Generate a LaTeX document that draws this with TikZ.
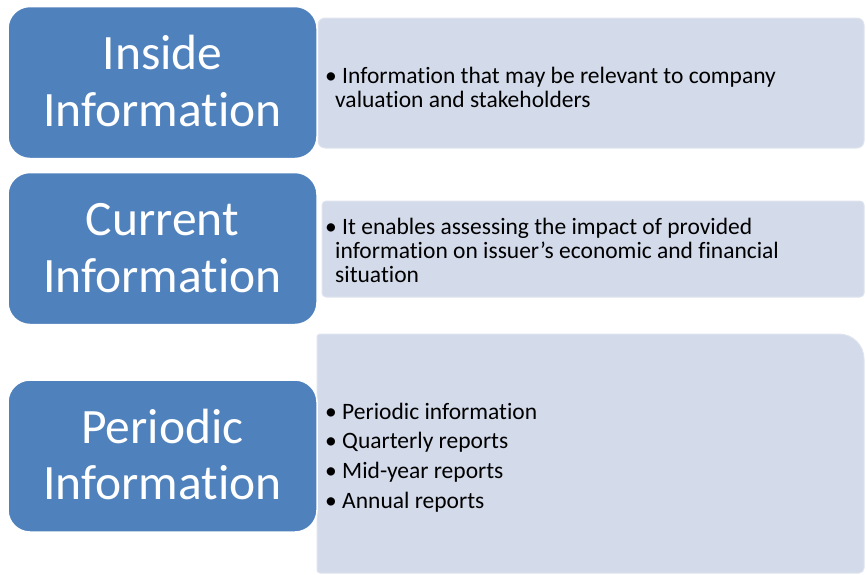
\documentclass[tikz,border=0pt]{standalone}
\usepackage{fontspec}
\setmainfont[Ligatures={NoCommon}]{Carlito}
\usetikzlibrary{calc}
\definecolor{headblue}{HTML}{4F81BD}
\definecolor{panelfill}{HTML}{D3DAEA}
\definecolor{panelline}{HTML}{DFE4EF}
\begin{document}
\begin{tikzpicture}[x=1pt,y=-1pt,
  headbox/.style={fill=headblue, draw=white, line width=1.5pt, rounded corners=22pt,
    minimum width=309pt, minimum height=152pt, inner sep=0pt, outer sep=0pt},
  panel/.style={fill=panelfill, draw=panelline, line width=1pt, inner sep=0pt, outer sep=0pt},
  headtext/.style={text=white, anchor=base, inner sep=0pt,
    font=\fontsize{49.5}{57}\selectfont},
  itemtext/.style={text=black, anchor=base west, inner sep=0pt,
    font=\fontsize{23.5}{24.5}\selectfont}]
\useasboundingbox (0,0) rectangle (866,574);

% detail panels (drawn first, the headings sit on top)
\node[panel, rounded corners=7pt, minimum width=546pt, minimum height=130pt] (d1) at (591,83) {};
\node[panel, rounded corners=4pt, minimum width=542pt, minimum height=96pt] (d2) at (593,249) {};
\node[inner sep=0pt, outer sep=0pt, minimum width=547pt, minimum height=239pt] (d3) at (590.5,453.5) {};
\draw[panel] (d3.south west) [rounded corners=3pt] -- (d3.north west)
  [rounded corners=25pt] -- (d3.north east)
  [rounded corners=5pt] -- (d3.south east)
  [rounded corners=3pt] -- cycle;

% heading boxes
\node[headbox] (inside) at (162.5,82.5) {};
\node[headbox] (current) at (162.5,248.5) {};
\node[headbox] (periodic) at (162.5,456) {};

% heading texts
\node[headtext] (insideA) at ($(inside.north)+(0,63)$) {Inside};
\node[headtext] (insideB) at ($(inside.north)+(0,119.5)$) {Information};
\node[headtext] (currentA) at ($(current.north)+(0,63)$) {Current};
\node[headtext] (currentB) at ($(current.north)+(0,119.5)$) {Information};
\node[headtext] (periodicA) at ($(periodic.north)+(0,63)$) {Periodic};
\node[headtext] (periodicB) at ($(periodic.north)+(0,119.5)$) {Information};

% bullet texts
\node[itemtext] (t1a) at (325,83) {• Information that may be relevant to company};
\node[itemtext] (t1b) at (335,107.5) {valuation and stakeholders};

\node[itemtext] (t2a) at (325,234) {• It enables assessing the impact of provided};
\node[itemtext] (t2b) at (335,258) {information on issuer’s economic and financial};
\node[itemtext] (t2c) at (335,282) {situation};

\node[itemtext] (t3a) at (325,419) {• Periodic information};
\node[itemtext] (t3b) at (325,448.5) {• Quarterly reports};
\node[itemtext] (t3c) at (325,478) {• Mid-year reports};
\node[itemtext] (t3d) at (325,508) {• Annual reports};
\end{tikzpicture}
\end{document}
